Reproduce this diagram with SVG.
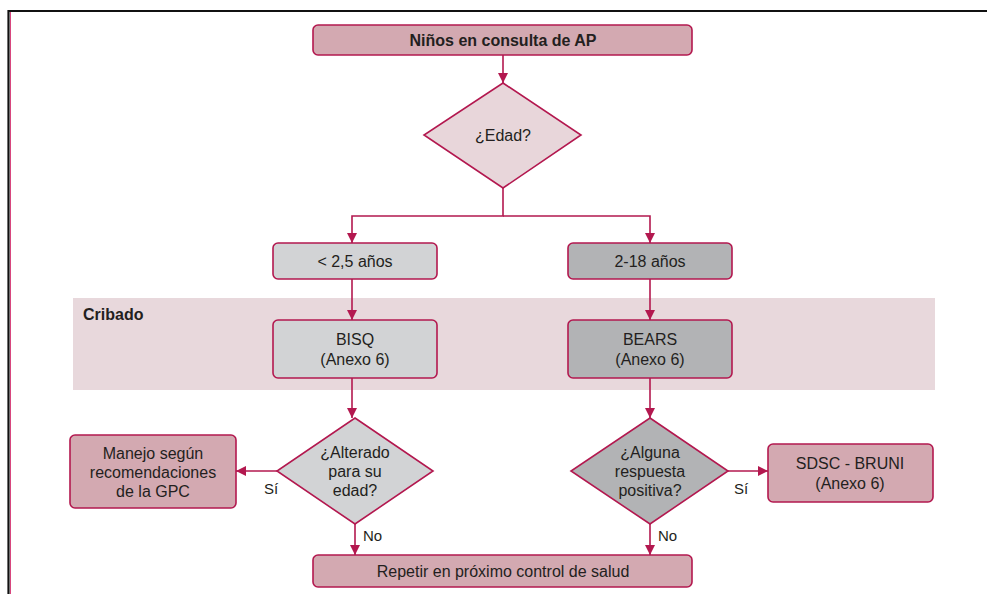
<svg xmlns="http://www.w3.org/2000/svg" width="987" height="594" viewBox="0 0 987 594">
<defs>
<style>
.box{stroke:#b3184f;stroke-width:1.6}
.pink{fill:#d3a9b1}
.lg{fill:#d2d3d5}
.dg{fill:#b2b3b5}
.conn{fill:none;stroke:#b3184f;stroke-width:1.6}
text{font-family:"Liberation Sans Narrow","Liberation Sans",Arial,sans-serif;font-size:16px;fill:#231f20;text-anchor:middle}
.b{font-weight:bold}
.l{text-anchor:start}
.s{font-size:15px}
</style>
<marker id="ah" viewBox="0 0 10 10" refX="10" refY="5" markerWidth="10" markerHeight="10" markerUnits="userSpaceOnUse" orient="auto">
<path d="M0,0 L10,5 L0,10 z" fill="#b3184f"/>
</marker>
</defs>
<rect width="987" height="594" fill="#ffffff"/>
<path d="M8.5,594 V11 H987" fill="none" stroke="#111" stroke-width="2.2"/>
<line x1="10.5" y1="12" x2="10.5" y2="594" stroke="#d8467e" stroke-width="1"/>
<g id="cribado">
<rect x="73" y="298" width="862" height="92" fill="#e8d8dc"/>
<text x="83" y="320" class="b l">Cribado</text>
</g>
<g id="connectors">
<line x1="503" y1="55" x2="503" y2="83" class="conn" marker-end="url(#ah)"/>
<path d="M503,188 V216 H352 V243" class="conn" marker-end="url(#ah)"/>
<path d="M503,216 H650 V243" class="conn" marker-end="url(#ah)"/>
<line x1="352" y1="279" x2="352" y2="320" class="conn" marker-end="url(#ah)"/>
<line x1="650" y1="279" x2="650" y2="320" class="conn" marker-end="url(#ah)"/>
<line x1="352" y1="378" x2="352" y2="418" class="conn" marker-end="url(#ah)"/>
<line x1="650" y1="378" x2="650" y2="418" class="conn" marker-end="url(#ah)"/>
<line x1="277" y1="471" x2="236" y2="471" class="conn" marker-end="url(#ah)"/>
<line x1="728" y1="471" x2="768" y2="471" class="conn" marker-end="url(#ah)"/>
<line x1="355" y1="524" x2="355" y2="555" class="conn" marker-end="url(#ah)"/>
<line x1="650" y1="524" x2="650" y2="555" class="conn" marker-end="url(#ah)"/>
<text x="264" y="494" class="l s">Sí</text>
<text x="734" y="494" class="l s">Sí</text>
<text x="363" y="541" class="l s">No</text>
<text x="658" y="541" class="l s">No</text>
</g>
<g id="start">
<rect x="313" y="25" width="379" height="30" rx="5" class="box pink"/>
<text x="503" y="46" class="b">Niños en consulta de AP</text>
</g>
<g id="edad">
<polygon points="503,83 581,135 503,188 424,135" class="box" fill="#e8d6da"/>
<text x="503" y="141">¿Edad?</text>
</g>
<g id="menor">
<rect x="273" y="243" width="164" height="36" rx="5" class="box lg"/>
<text x="355" y="267">&lt; 2,5 años</text>
</g>
<g id="mayor">
<rect x="568" y="243" width="164" height="36" rx="5" class="box dg"/>
<text x="650" y="267">2-18 años</text>
</g>
<g id="bisq">
<rect x="273" y="320" width="164" height="58" rx="5" class="box lg"/>
<text x="355" y="345">BISQ</text>
<text x="355" y="365">(Anexo 6)</text>
</g>
<g id="bears">
<rect x="568" y="320" width="164" height="58" rx="5" class="box dg"/>
<text x="650" y="345">BEARS</text>
<text x="650" y="365">(Anexo 6)</text>
</g>
<g id="alterado">
<polygon points="355,418 433,471 355,524 277,471" class="box lg"/>
<text x="355" y="458">¿Alterado</text>
<text x="355" y="477">para su</text>
<text x="355" y="496">edad?</text>
</g>
<g id="alguna">
<polygon points="650,418 728,471 650,524 571,471" class="box dg"/>
<text x="650" y="458">¿Alguna</text>
<text x="650" y="477">respuesta</text>
<text x="650" y="496">positiva?</text>
</g>
<g id="manejo">
<rect x="70" y="435" width="166" height="73" rx="5" class="box pink"/>
<text x="153" y="459">Manejo según</text>
<text x="153" y="478">recomendaciones</text>
<text x="153" y="497">de la GPC</text>
</g>
<g id="sdsc">
<rect x="768" y="444" width="165" height="58" rx="5" class="box pink"/>
<text x="850" y="469">SDSC - BRUNI</text>
<text x="850" y="489">(Anexo 6)</text>
</g>
<g id="repetir">
<rect x="313" y="555" width="379" height="32" rx="5" class="box pink"/>
<text x="503" y="577">Repetir en próximo control de salud</text>
</g>
</svg>
